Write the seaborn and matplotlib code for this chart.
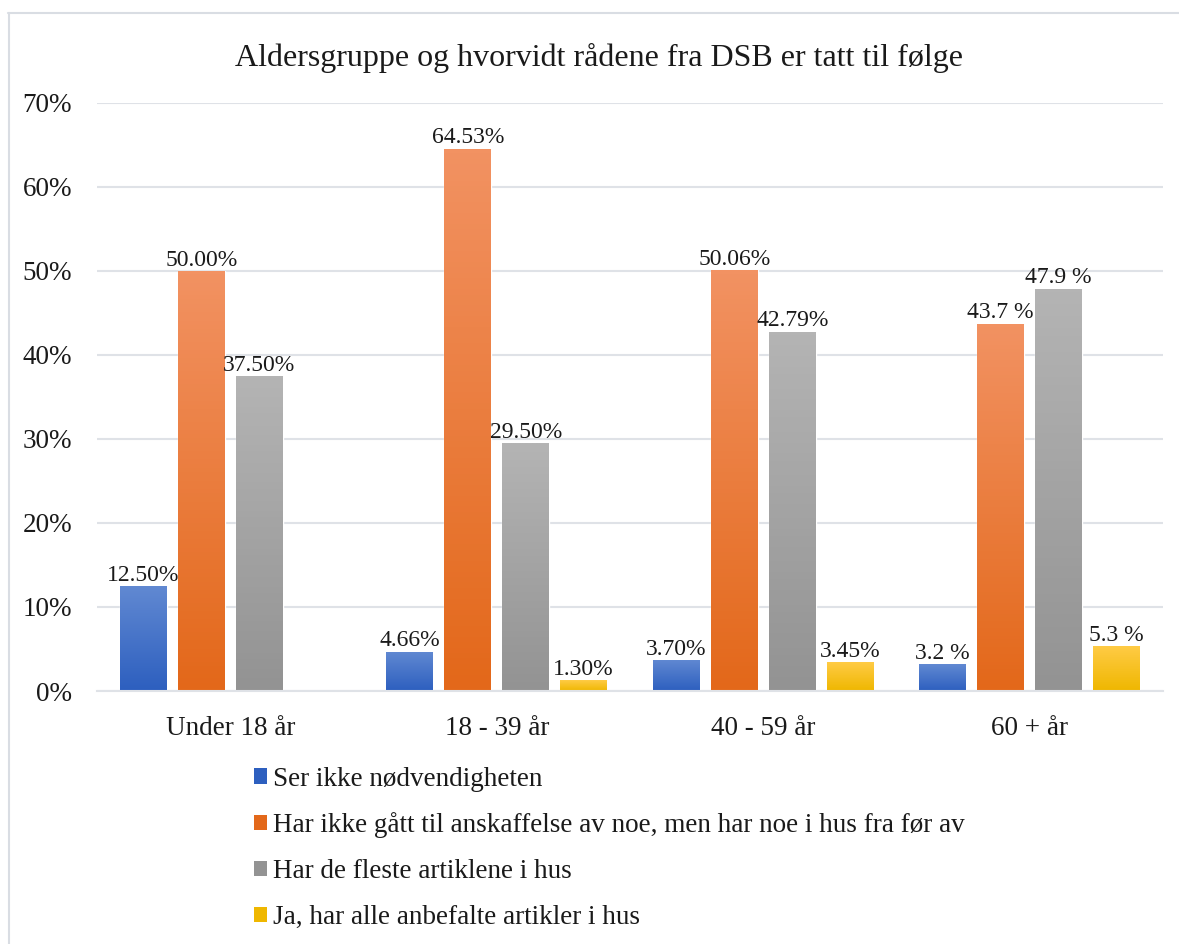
import numpy as np
import pandas as pd
import matplotlib
matplotlib.use('Agg')
import matplotlib.pyplot as plt
import seaborn as sns
from matplotlib.colors import LinearSegmentedColormap
from matplotlib.patches import Patch
from matplotlib.lines import Line2D

# Data
groups = ['Under 18 år', '18 - 39 år', '40 - 59 år', '60 + år']
series = ['Ser ikke nødvendigheten',
          'Har ikke gått til anskaffelse av noe, men har noe i hus fra før av',
          'Har de fleste artiklene i hus',
          'Ja, har alle anbefalte artikler i hus']
ser_ikke = [12.50, 4.66, 3.70, 3.2]
har_ikke = [50.00, 64.53, 50.06, 43.7]
har_fleste = [37.50, 29.50, 42.79, 47.9]
ja_alle = [np.nan, 1.30, 3.45, 5.3]
labels = [['12.50%', '4.66%', '3.70%', '3.2 %'],
          ['50.00%', '64.53%', '50.06%', '43.7 %'],
          ['37.50%', '29.50%', '42.79%', '47.9 %'],
          ['', '1.30%', '3.45%', '5.3 %']]

# gradient colours (top, bottom) for each series
grads = [('#6189d2', '#2d5fbf'),
         ('#f29262', '#e3681a'),
         ('#b4b4b4', '#939393'),
         ('#ffcb45', '#efb700')]

rows = []
for s, vals in zip(series, [ser_ikke, har_ikke, har_fleste, ja_alle]):
    for g, v in zip(groups, vals):
        rows.append({'Gruppe': g, 'Serie': s, 'Andel': v})
df = pd.DataFrame(rows)

sns.set_style('white')
plt.rcParams['font.family'] = ['Liberation Serif', 'DejaVu Serif']

fig = plt.figure(figsize=(11.79, 9.44), dpi=100)
ax = fig.add_axes([0.0823, 0.268, 0.9041, 0.623])

sns.barplot(data=df, x='Gruppe', y='Andel', hue='Serie', order=groups,
            hue_order=series, palette=[g[1] for g in grads],
            width=0.87, gap=0.19, ax=ax, legend=False)

# gradient fill clipped to each bar, plus value labels
for i, cont in enumerate(ax.containers):
    cmap = LinearSegmentedColormap.from_list('g%d' % i, [grads[i][1], grads[i][0]])
    for bar in cont.patches:
        h = bar.get_height()
        if not np.isfinite(h) or h <= 0:
            continue
        x0 = bar.get_x()
        w = bar.get_width()
        j = int(round(x0 + w / 2))
        grad = np.linspace(0, 1, 100).reshape(-1, 1)
        im = ax.imshow(grad, cmap=cmap, origin='lower', aspect='auto',
                       extent=[x0, x0 + w, 0, h], zorder=bar.get_zorder() + 0.1)
        im.set_clip_path(bar)
        ax.text(x0 + w / 2, h + 0.05, labels[i][j], ha='center', va='bottom',
                fontsize=17, color='#1a1a1a')

ax.set_xlim(-0.5, 3.5)
ax.set_ylim(0, 70)
ax.set_yticks(range(0, 71, 10))
ax.set_yticklabels(['%d%%' % t for t in range(0, 71, 10)])
ax.yaxis.grid(True, color='#dfe2e7', linewidth=1.5)
ax.set_axisbelow(True)
for sp in ['top', 'right', 'left']:
    ax.spines[sp].set_visible(False)
ax.spines['bottom'].set_color('#dfe2e7')
ax.spines['bottom'].set_linewidth(1.5)
ax.tick_params(axis='both', length=0, labelsize=19.5, colors='#1a1a1a')
ax.tick_params(axis='y', pad=18)
ax.tick_params(axis='x', pad=18)
ax.set_xlabel('')
ax.set_ylabel('')

fig.text(0.508, 0.939, 'Aldersgruppe og hvorvidt rådene fra DSB er tatt til følge',
         ha='center', va='center', fontsize=23, color='#1a1a1a')

handles = []
for (top, bot) in grads:
    handles.append(Patch(facecolor=bot, edgecolor='none'))
leg = fig.legend(handles, series, loc='upper left', bbox_to_anchor=(0.206, 0.1995),
                 frameon=False, fontsize=19.5, handlelength=0.5, handleheight=0.5,
                 handletextpad=0.2, labelspacing=0.77, borderaxespad=0)
for t in leg.get_texts():
    t.set_color('#1a1a1a')

# outer chart border (top and left edges visible)
fig.add_artist(Line2D([8 / 1179, 1], [1 - 13 / 944, 1 - 13 / 944],
                      transform=fig.transFigure, color='#d9dde3', linewidth=1.5))
fig.add_artist(Line2D([9 / 1179, 9 / 1179], [0, 1 - 13 / 944],
                      transform=fig.transFigure, color='#d9dde3', linewidth=1.5))

fig.savefig('out.png', dpi=100)
